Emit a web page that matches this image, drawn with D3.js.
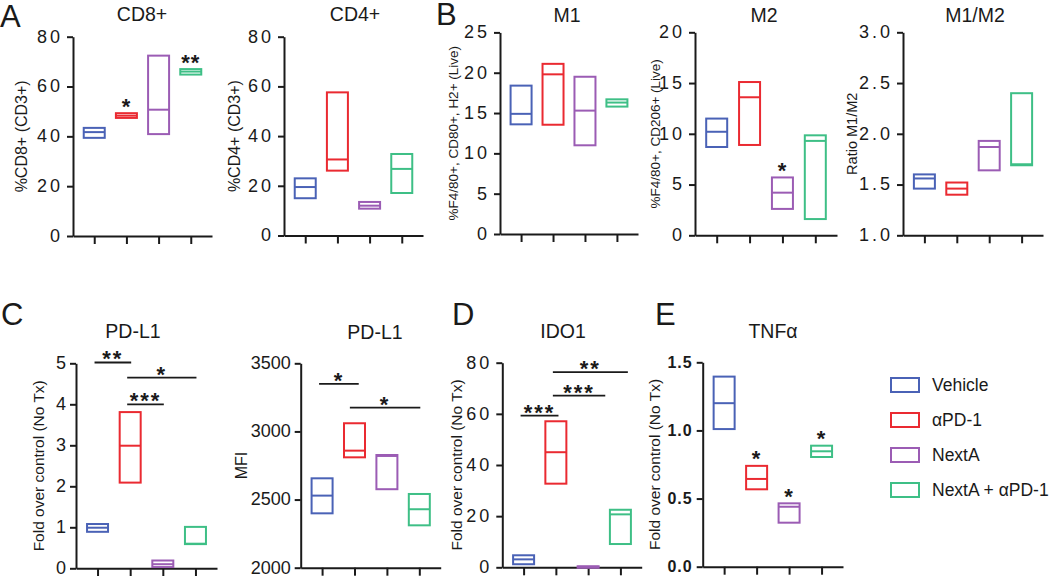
<!DOCTYPE html>
<html>
<head>
<meta charset="utf-8">
<script src="https://cdn.jsdelivr.net/npm/d3@7"></script>
<style>
  html, body { margin: 0; padding: 0; background: #fff; }
  svg text { font-family: "Liberation Sans", Arial, sans-serif; fill: #1a1a1a; }
</style>
</head>
<body>
<svg id="chart" width="1050" height="576"></svg>
<script>
// ---------------- DATA ----------------
const groups = ["Vehicle", "αPD-1", "NextA", "NextA + αPD-1"];
const groupColors = ["#4a62b6", "#ea2a31", "#9b5cb4", "#3ebf86"];

// Panel A
const cd8Min = [39.4, 47.4, 40.9, 64.8];
const cd8Med = [41.7, 48.3, 50.7, 66.0];
const cd8Max = [43.4, 49.3, 72.4, 67.0];
const cd8Stars = ["", "*", "", "**"];

const cd4Min = [15.0, 26.1, 10.8, 17.1];
const cd4Med = [19.5, 30.6, 12.0, 26.8];
const cd4Max = [23.0, 57.6, 13.5, 32.8];

// Panel B
const m1Min = [13.6, 13.55, 11.0, 15.8];
const m1Med = [14.9, 19.8, 15.3, 16.3];
const m1Max = [18.4, 21.1, 19.5, 16.7];

const m2Min = [8.7, 8.9, 2.6, 1.6];
const m2Med = [10.2, 13.6, 4.2, 9.3];
const m2Max = [11.5, 15.1, 5.7, 9.85];
const m2Stars = ["", "", "*", ""];

const ratioMin = [1.46, 1.40, 1.64, 1.69];
const ratioMed = [1.56, 1.46, 1.87, 1.70];
const ratioMax = [1.60, 1.52, 1.93, 2.40];

// Panel C
const pdl1FoldMin = [0.89, 2.09, 0.03, 0.59];
const pdl1FoldMed = [0.99, 2.99, 0.10, 0.60];
const pdl1FoldMax = [1.08, 3.81, 0.19, 1.01];
// [fromGroup, toGroup, y value, label]
const pdl1FoldSig = [[0, 1, 5.02, "**"], [1, 3, 4.65, "*"], [1, 2, 4.0, "***"]];

const pdl1MfiMin = [2399, 2810, 2576, 2311];
const pdl1MfiMed = [2529, 2859, 2820, 2429];
const pdl1MfiMax = [2656, 3060, 2827, 2541];
const pdl1MfiSig = [[0, 1.1, 3349, "*"], [0.95, 3, 3175, "*"]];

// Panel D
const ido1Min = [1.2, 32.7, 0.0, 9.1];
const ido1Med = [3.1, 45.0, 0.2, 20.7];
const ido1Max = [4.7, 57.1, 0.4, 22.5];
const ido1Sig = [[0, 1.05, 59.3, "***"], [1, 2.5, 67.1, "***"], [1, 3.2, 76.3, "**"]];

// Panel E
const tnfMin = [1.01, 0.568, 0.323, 0.805];
const tnfMed = [1.20, 0.644, 0.44, 0.847];
const tnfMax = [1.395, 0.74, 0.465, 0.888];
const tnfStars = ["", "*", "*", "*"];

// Tick values
const ticks0to80 = [0, 20, 40, 60, 80];
const ticks0to25 = [0, 5, 10, 15, 20, 25];
const ticks0to20 = [0, 5, 10, 15, 20];
const ticksRatio = [1.0, 1.5, 2.0, 2.5, 3.0];
const ticks0to5 = [0, 1, 2, 3, 4, 5];
const ticksMfi = [2000, 2500, 3000, 3500];
const ticksTnf = [0.0, 0.5, 1.0, 1.5];

// ---------------- LAYOUT ----------------
const panels = [
  { title: "CD8+", ylabel: "%CD8+ (CD3+)", x0: 73, x1: 212, yTop: 36.7, yBot: 236, domain: [0, 80], ticks: ticks0to80, fmt: d3.format("d"),
    min: cd8Min, med: cd8Med, max: cd8Max, stars: cd8Stars, spaced: true, titleX: 142, titleY: 21, labelX: 21, labelFs: 16 },
  { title: "CD4+", ylabel: "%CD4+ (CD3+)", x0: 284, x1: 423, yTop: 36.7, yBot: 235.5, domain: [0, 80], ticks: ticks0to80, fmt: d3.format("d"),
    min: cd4Min, med: cd4Med, max: cd4Max, spaced: true, titleX: 355, titleY: 21, labelX: 234, labelFs: 16 },
  { title: "M1", ylabel: "%F4/80+, CD80+, H2+ (Live)", x0: 500, x1: 638, yTop: 32.4, yBot: 234, domain: [0, 25], ticks: ticks0to25, fmt: d3.format("d"),
    min: m1Min, med: m1Med, max: m1Max, spaced: true, titleX: 567, titleY: 22, labelX: 453, labelFs: 13.5 },
  { title: "M2", ylabel: "%F4/80+, CD206+ (Live)", x0: 695, x1: 837, yTop: 32.3, yBot: 235.3, domain: [0, 20], ticks: ticks0to20, fmt: d3.format("d"),
    min: m2Min, med: m2Med, max: m2Max, stars: m2Stars, spaced: true, titleX: 764, titleY: 22, labelX: 655, labelFs: 13.5 },
  { title: "M1/M2", ylabel: "Ratio M1/M2", x0: 903, x1: 1043, yTop: 32.3, yBot: 235.3, domain: [1, 3], ticks: ticksRatio, fmt: d3.format(".1f"),
    min: ratioMin, med: ratioMed, max: ratioMax, spaced: true, titleX: 975, titleY: 22, labelX: 852, labelFs: 14.5 },
  { title: "PD-L1", ylabel: "Fold over control (No Tx)", x0: 76, x1: 217, yTop: 363.3, yBot: 568.3, domain: [0, 5], ticks: ticks0to5, fmt: d3.format("d"),
    min: pdl1FoldMin, med: pdl1FoldMed, max: pdl1FoldMax, sig: pdl1FoldSig, spaced: false, titleX: 133, titleY: 338, labelX: 39, labelFs: 15.5 },
  { title: "PD-L1", ylabel: "MFI", x0: 300.7, x1: 440.7, yTop: 363.3, yBot: 567.7, domain: [2000, 3500], ticks: ticksMfi, fmt: d3.format("d"),
    min: pdl1MfiMin, med: pdl1MfiMed, max: pdl1MfiMax, sig: pdl1MfiSig, spaced: false, titleX: 375, titleY: 339, labelX: 241, labelFs: 16 },
  { title: "IDO1", ylabel: "Fold over control (No Tx)", x0: 502.3, x1: 641.7, yTop: 362.7, yBot: 567.3, domain: [0, 80], ticks: ticks0to80, fmt: d3.format("d"),
    min: ido1Min, med: ido1Med, max: ido1Max, sig: ido1Sig, spaced: true, titleX: 563, titleY: 338, labelX: 457, labelFs: 15.5 },
  { title: "TNFα", ylabel: "Fold over control (No Tx)", x0: 702.7, x1: 843, yTop: 362.3, yBot: 566.7, domain: [0, 1.5], ticks: ticksTnf, fmt: d3.format(".1f"),
    min: tnfMin, med: tnfMed, max: tnfMax, stars: tnfStars, spaced: false, bold: true, titleX: 773, titleY: 338, labelX: 655, labelFs: 15.5 }
];

const panelLetters = [
  { t: "A", x: 0, y: 27 }, { t: "B", x: 436, y: 25 },
  { t: "C", x: 1, y: 325 }, { t: "D", x: 452, y: 325 }, { t: "E", x: 655, y: 325 }
];

const svg = d3.select("#chart");
const ink = "#1a1a1a";
const boxW = 21;

panels.forEach(p => {
  const g = svg.append("g");
  const x = d3.scalePoint().domain(groups).range([p.x0, p.x1]).padding(0.66);
  const y = d3.scaleLinear().domain(p.domain).range([p.yBot, p.yTop]);
  const xi = i => x(groups[0]) + i * x.step();

  // y axis
  const ya = g.append("g").attr("transform", `translate(${p.x0},0)`)
    .call(d3.axisLeft(y).tickValues(p.ticks).tickFormat(p.fmt).tickSize(6).tickSizeOuter(0).tickPadding(4));
  ya.select(".domain").attr("stroke", ink).attr("stroke-width", 2);
  ya.selectAll(".tick line").attr("stroke", ink).attr("stroke-width", 2);
  ya.selectAll(".tick text")
    .attr("fill", ink)
    .attr("dy", "0.3em")
    .style("font-family", '"Liberation Sans", Arial, sans-serif')
    .style("font-size", p.bold ? "16px" : "18px")
    .style("font-weight", p.bold ? "bold" : "normal")
    .style("letter-spacing", p.spaced ? "3px" : (p.bold ? "1px" : "0px"));

  // x axis
  const xa = g.append("g").attr("transform", `translate(0,${p.yBot})`)
    .call(d3.axisBottom(x).tickFormat("").tickSize(8).tickSizeOuter(0));
  xa.select(".domain").attr("stroke", ink).attr("stroke-width", 2);
  xa.selectAll(".tick line").attr("stroke", ink).attr("stroke-width", 2);

  // floating boxes
  groups.forEach((grp, i) => {
    const cx = x(grp);
    const c = groupColors[i];
    const yt = y(p.max[i]), yb = y(p.min[i]);
    g.append("rect")
      .attr("x", cx - boxW / 2).attr("y", yt)
      .attr("width", boxW).attr("height", Math.max(yb - yt, 1.5))
      .attr("fill", "none").attr("stroke", c).attr("stroke-width", 2);
    g.append("line")
      .attr("x1", cx - boxW / 2).attr("x2", cx + boxW / 2)
      .attr("y1", y(p.med[i])).attr("y2", y(p.med[i]))
      .attr("stroke", c).attr("stroke-width", 2);
    if (p.stars && p.stars[i]) {
      g.append("text")
        .attr("x", cx).attr("y", yt - 11.5 + 12)
        .attr("text-anchor", "middle")
        .style("font-size", "22px").style("font-weight", "bold")
        .style("letter-spacing", "1px")
        .text(p.stars[i]);
    }
  });

  // significance bars
  if (p.sig) {
    p.sig.forEach(s => {
      const xa1 = xi(s[0]) - 3, xa2 = xi(s[1]) + 1;
      const yy = y(s[2]);
      g.append("line").attr("x1", xa1).attr("x2", xa2).attr("y1", yy).attr("y2", yy)
        .attr("stroke", ink).attr("stroke-width", 1.8);
      g.append("text")
        .attr("x", (xa1 + xa2) / 2).attr("y", yy + 4)
        .attr("text-anchor", "middle")
        .style("font-size", "22px").style("font-weight", "bold")
        .style("letter-spacing", "2px")
        .text(s[3]);
    });
  }

  // title
  svg.append("text").attr("x", p.titleX).attr("y", p.titleY)
    .attr("text-anchor", "middle").style("font-size", "19.5px").text(p.title);

  // y label
  const cy = (p.yTop + p.yBot) / 2;
  svg.append("text")
    .attr("transform", `translate(${p.labelX},${cy}) rotate(-90)`)
    .attr("text-anchor", "middle").attr("dy", "0.35em")
    .style("font-size", p.labelFs + "px").text(p.ylabel);
});

// panel letters
svg.selectAll(".pl").data(panelLetters).enter().append("text")
  .attr("x", d => d.x).attr("y", d => d.y)
  .style("font-size", "31px").text(d => d.t);

// legend
const legendY = d3.scalePoint().domain(groups).range([385, 490]);
const lg = svg.append("g");
groups.forEach((grp, i) => {
  lg.append("rect").attr("x", 891).attr("y", legendY(grp) - 7)
    .attr("width", 28).attr("height", 14)
    .attr("fill", "none").attr("stroke", groupColors[i]).attr("stroke-width", 2);
  lg.append("text").attr("x", 932).attr("y", legendY(grp) + 6)
    .style("font-size", "17.5px").text(grp);
});
</script>
</body>
</html>
